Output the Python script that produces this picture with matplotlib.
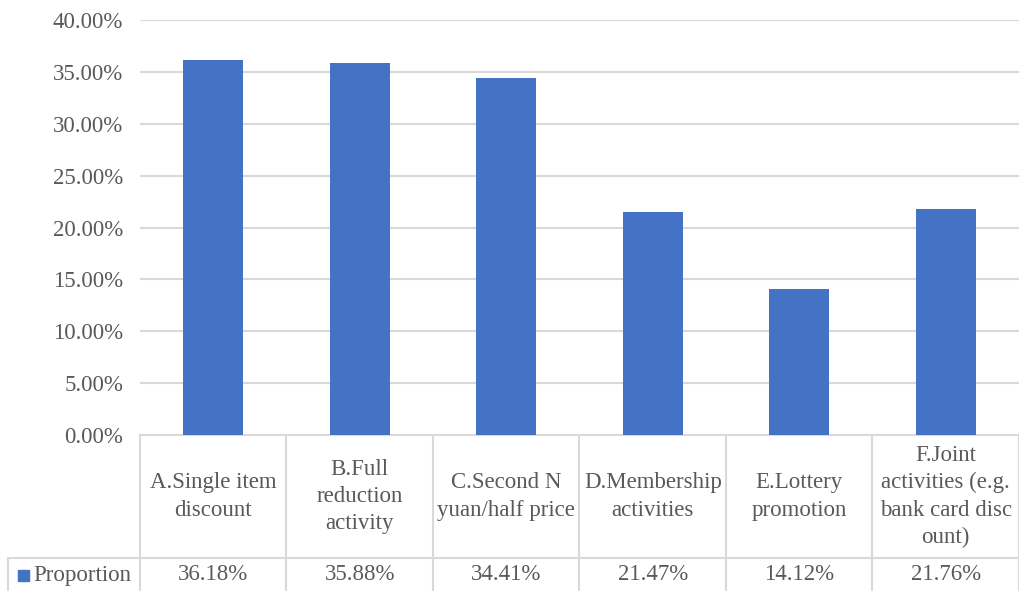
import matplotlib
matplotlib.use("Agg")
import matplotlib.pyplot as plt
import matplotlib.patches as mp
from matplotlib.ticker import FuncFormatter

plt.rcParams.update({
    "font.family": ["Liberation Serif", "DejaVu Serif"],
    "figure.facecolor": "white", "savefig.facecolor": "white",
})

# ── Data ─────────────────────────────────────────────────────
categories = [
    "A.Single item\ndiscount",
    "B.Full\nreduction\nactivity",
    "C.Second N\nyuan/half price",
    "D.Membership\nactivities",
    "E.Lottery\npromotion",
    "F.Joint\nactivities (e.g.\nbank card disc\nount)",
]
proportion = [36.18, 35.88, 34.41, 21.47, 14.12, 21.76]
series_name = "Proportion"

BLUE = "#4472C4"
TXT = "#595959"
GRID = "#d9d9d9"
FS = 16.5
W_PX, H_PX = 1019, 591

fig = plt.figure(figsize=(W_PX / 100, H_PX / 100), dpi=100)

# plot area in pixels: left 140, right 1019, top 20, bottom 435
ax = fig.add_axes([140 / W_PX, (H_PX - 435) / H_PX, 879 / W_PX, 415 / H_PX])
x = list(range(len(categories)))
ax.bar(x, proportion, width=0.41, color=BLUE, zorder=3)
ax.set_xlim(-0.5, len(categories) - 0.5)
ax.set_ylim(0, 40)
ax.set_yticks(range(0, 41, 5))
ax.yaxis.set_major_formatter(FuncFormatter(lambda v, p: f"{v:.2f}%"))
ax.set_xticks([])
ax.grid(axis="y", color=GRID, lw=1.5, zorder=0)
for s in ax.spines.values():
    s.set_visible(False)
ax.tick_params(axis="y", length=0, pad=12, labelsize=FS, labelcolor=TXT)

# ── Data table (pixel overlay) ──────────────────────────────
tab = fig.add_axes([0, 0, 1, 1], zorder=-1)
tab.set_xlim(0, W_PX); tab.set_ylim(0, H_PX); tab.axis("off")

def to_px(xd, yd):
    d = ax.transData.transform((xd, yd))
    return d[0], d[1]

y_top = to_px(0, 0)[1]
y_mid = H_PX - 558
y_bot = H_PX - 594
edges = [to_px(i - 0.5, 0)[0] for i in range(len(categories) + 1)]
x_left = 8

lk = dict(color=GRID, lw=1.5, zorder=1)
tab.plot([edges[0], edges[-1]], [y_top, y_top], **lk)
tab.plot([x_left, edges[-1]], [y_mid, y_mid], **lk)
tab.plot([x_left, x_left], [y_mid, y_bot], **lk)
for e in edges:
    tab.plot([e, e], [y_top, y_bot], **lk)

for i, (cat, val) in enumerate(zip(categories, proportion)):
    cx = (edges[i] + edges[i + 1]) / 2
    tab.text(cx, (y_top + y_mid) / 2, cat, ha="center", va="center",
             fontsize=FS, color=TXT, linespacing=1.38)
    tab.text(cx, (y_mid + y_bot) / 2 + 1, f"{val:.2f}%", ha="center", va="center",
             fontsize=FS, color=TXT)

# legend key + series name
tab.add_patch(mp.Rectangle((18, (y_mid + y_bot) / 2 - 5), 11, 11, color=BLUE))
tab.text(33, (y_mid + y_bot) / 2 + 1, series_name, ha="left", va="center",
         fontsize=FS, color=TXT)

fig.savefig("out.png", dpi=100)
